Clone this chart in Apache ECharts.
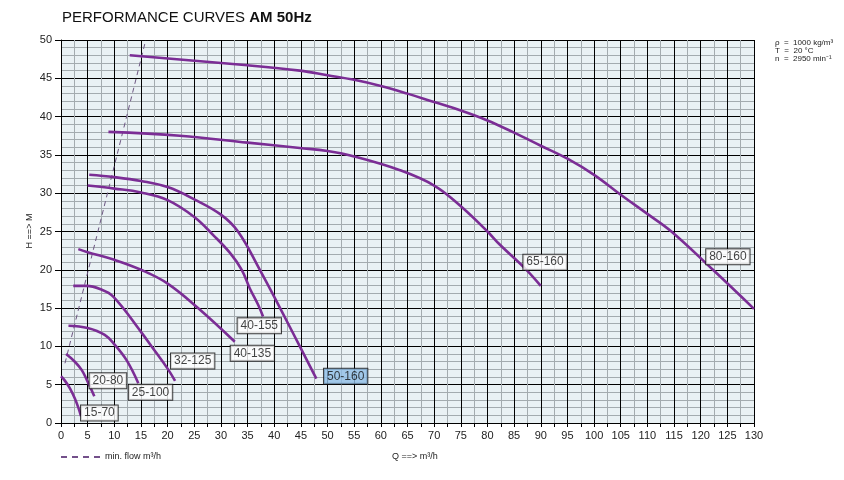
<!DOCTYPE html>
<html>
<head>
<meta charset="utf-8">
<script src="https://cdn.jsdelivr.net/npm/echarts@6/dist/echarts.min.js"></script>
<style>
  html, body { margin: 0; padding: 0; background: #fff; }
  #chart { width: 844px; height: 480px; }
</style>
</head>
<body>
<div id="chart"></div>
<script>
// pump curves, Q (m3/h) vs H (m)
const c15_70 = [[0, 6.1], [0.75, 5.5], [1.7, 4.5], [2.6, 3.2], [3.25, 2.0], [3.75, 0.9]]
const c20_80 = [[0.95, 9.0], [2.6, 8.0], [3.9, 6.9], [5.0, 5.4], [6.25, 3.5]]
const c25_100 = [[1.4, 12.7], [5.0, 12.4], [8.2, 11.5], [10.1, 10.2], [12.3, 8.2], [14.5, 5.2]]
const c32_125 = [[2.3, 17.9], [4.8, 17.9], [7.3, 17.5], [9.8, 16.5], [15, 11.9], [17, 10], [20, 7.1], [21.4, 5.5]]
const c40_135 = [[3.25, 22.7], [5, 22.3], [10, 21.3], [15, 20.0], [20, 18.2], [25.7, 15], [32.6, 10.6]]
const c40_155 = [[5, 31.0], [10, 30.6], [15, 30.1], [20, 29.1], [25, 26.9], [28.6, 24.5], [31.7, 22.2], [33.9, 20], [35.4, 17.6], [37, 15.4], [37.9, 13.9]]
const c50_160 = [[5.3, 32.4], [10, 32.1], [15, 31.6], [20, 30.8], [25, 29.2], [30, 27.2], [33.2, 25], [37.3, 20], [41.1, 15], [44.8, 10], [47.9, 5.8]]
const c65_160 = [[8.9, 38], [22.3, 37.5], [35, 36.6], [44.8, 35.9], [50, 35.5], [55, 34.8], [63.6, 33], [70, 31], [75, 28.3], [80, 25], [82.3, 23.3], [87.3, 20], [90, 17.9]]
const c80_160 = [[12.9, 48], [35, 46.7], [44.8, 46], [50, 45.4], [55, 44.8], [60, 44], [65, 43], [70, 41.9], [75, 40.8], [80, 39.5], [85, 37.9], [90, 36.2], [95, 34.5], [100, 32.4], [105, 29.8], [110, 27.3], [114.5, 25], [122.3, 20], [130, 14.9]]
const minFlow = [[0.75, 7.8], [15.9, 50]]

const pumpNames = ['15-70', '20-80', '25-100', '32-125', '40-135', '40-155', '50-160', '65-160', '80-160']
const pumpCurves = [c15_70, c20_80, c25_100, c32_125, c40_135, c40_155, c50_160, c65_160, c80_160]
// where each name box sits (Q, H)
const labelAnchors = [[7.2, 1.3], [8.8, 5.5], [16.8, 4.0], [24.7, 8.1], [35.9, 9.1], [37.2, 12.7], [53.4, 6.1], [90.8, 21.0], [125.1, 21.7]]

const curveColor = '#7b2d95'
const font = 'Liberation Sans, Arial, sans-serif'

let chart = echarts.init(document.getElementById('chart'), null, { renderer: 'canvas' })

let series = pumpCurves.map((pts, i) => {
  return {
    name: pumpNames[i],
    type: 'line',
    data: pts,
    showSymbol: false,
    symbol: 'none',
    smooth: 0.4,
    lineStyle: { color: curveColor, width: 2.6 },
    z: 3,
  }
})

series.push({
  name: 'min. flow m³/h',
  type: 'line',
  data: minFlow,
  symbol: 'none',
  lineStyle: { color: '#6b5580', width: 1, type: [5, 4] },
  z: 2,
})

let nameData = labelAnchors.map((p, i) => {
  let item = { value: [p[0], p[1]], name: pumpNames[i] }
  // 50-160 box is highlighted
  if (pumpNames[i] === '50-160') item.label = { backgroundColor: '#8fbee6' }
  return item
})

series.push({
  name: 'names',
  type: 'scatter',
  data: nameData,
  symbolSize: 1,
  itemStyle: { color: 'rgba(0,0,0,0)' },
  z: 5,
  label: {
    show: true,
    position: 'inside',
    formatter: (p) => p.name,
    fontFamily: font,
    fontSize: 12,
    color: '#111',
    backgroundColor: '#fff',
    borderColor: '#111',
    borderWidth: 1,
    padding: [2, 3, 1, 3],
  },
  labelLayout: { hideOverlap: false },
})

let option = {
  animation: false,
  backgroundColor: '#fff',
  textStyle: { fontFamily: font },
  grid: {
    left: 61,
    right: 90,
    top: 40,
    bottom: 57,
    show: true,
    backgroundColor: '#e9f1f4',
    borderWidth: 0,
  },
  graphic: [
    {
      type: 'text',
      left: 62,
      top: 10,
      style: {
        text: '{a|PERFORMANCE CURVES }{b|AM 50Hz}',
        rich: {
          a: { fontSize: 15, fontFamily: font, fill: '#111' },
          b: { fontSize: 15, fontFamily: font, fontWeight: 'bold', fill: '#111' },
        },
      },
    },
    {
      type: 'text',
      left: 775,
      top: 39,
      style: {
        text: 'ρ  =  1000 kg/m³\nT  =  20 °C\nn  =  2950 min⁻¹',
        fontSize: 8,
        lineHeight: 8,
        fontFamily: font,
        fill: '#222',
      },
    },
    {
      // y axis title, vertical
      type: 'text',
      x: 30,
      y: 231,
      rotation: Math.PI / 2,
      style: {
        text: 'H ==> M',
        fontSize: 9,
        fontFamily: font,
        fill: '#222',
        align: 'center',
        verticalAlign: 'middle',
      },
    },
    {
      type: 'line',
      shape: { x1: 61, y1: 457, x2: 100, y2: 457 },
      style: { stroke: '#73508a', lineWidth: 2, lineDash: [6, 5] },
    },
    {
      type: 'text',
      left: 105,
      top: 452,
      style: { text: 'min. flow m³/h', fontSize: 9, fontFamily: font, fill: '#222' },
    },
    {
      type: 'text',
      left: 392,
      top: 452,
      style: { text: 'Q ==> m³/h', fontSize: 9, fontFamily: font, fill: '#222' },
    },
  ],
  xAxis: {
    type: 'value',
    min: 0,
    max: 130,
    interval: 5,
    axisLine: { show: true, onZero: false, lineStyle: { color: '#000', width: 1 } },
    axisTick: { show: true, length: 4, lineStyle: { color: '#000' } },
    minorTick: { show: true, splitNumber: 2, length: 4, lineStyle: { color: '#000' } },
    axisLabel: { fontSize: 11, color: '#222', margin: 7, fontFamily: font },
    splitLine: { show: true, lineStyle: { color: '#000', width: 1 } },
    minorSplitLine: { show: true, lineStyle: { color: '#a3abaf', width: 1 } },
  },
  yAxis: {
    type: 'value',
    min: 0,
    max: 50,
    interval: 5,
    axisLine: { show: true, lineStyle: { color: '#000', width: 1 } },
    axisTick: { show: true, length: 6, lineStyle: { color: '#000' } },
    axisLabel: { fontSize: 11, color: '#222', margin: 9, fontFamily: font },
    splitLine: { show: true, lineStyle: { color: '#000', width: 1 } },
    minorTick: { show: false, splitNumber: 5 },
    minorSplitLine: { show: true, lineStyle: { color: '#a3abaf', width: 1 } },
  },
  series: series,
}

chart.setOption(option)
</script>
</body>
</html>
